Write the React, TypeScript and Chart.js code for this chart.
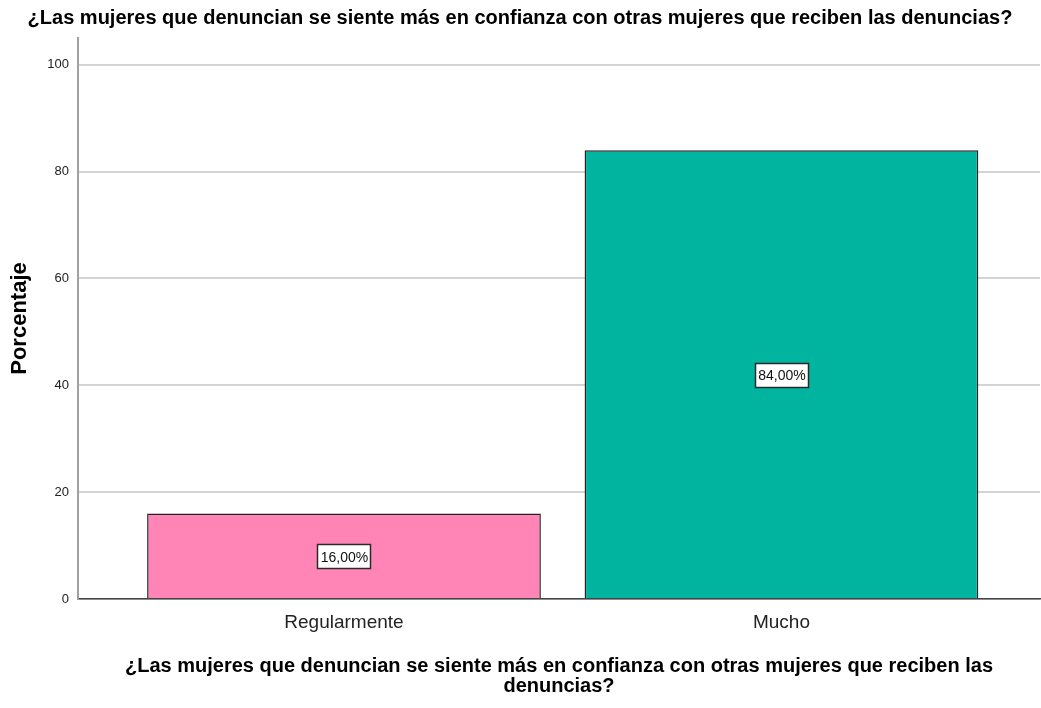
import React, { useEffect, useRef } from "react";
import { Chart, registerables } from "chart.js";

Chart.register(...registerables);

const categories = ["Regularmente", "Mucho"];
const positions = [0, 1];
const values = [16, 84];
const valueLabels = ["16,00%", "84,00%"];
const barColors = ["#FF85B6", "#00B4A0"];
const yTicks = [0, 20, 40, 60, 80, 100];

const titleText =
  "¿Las mujeres que denuncian se siente más en confianza con otras mujeres que reciben las denuncias?";
const xTitleLines = [
  "¿Las mujeres que denuncian se siente más en confianza con otras mujeres que reciben las",
  "denuncias?",
];

const FONT = "'Liberation Sans', Arial, sans-serif";

const labelPlugin = {
  id: "valueBoxes",
  afterDatasetsDraw(chart: any) {
    const ctx = chart.ctx;
    const meta = chart.getDatasetMeta(0);
    const yScale = chart.scales.y;
    ctx.save();
    ctx.font = "14px " + FONT;
    ctx.textAlign = "center";
    ctx.textBaseline = "middle";
    meta.data.forEach((bar: any, i: number) => {
      const x = bar.x;
      const y = yScale.getPixelForValue(values[i] / 2);
      const text = valueLabels[i];
      const w = Math.round(ctx.measureText(text).width + 6);
      const h = 24;
      const bx = Math.round(x - w / 2);
      const by = Math.round(y - h / 2);
      ctx.fillStyle = "#ffffff";
      ctx.fillRect(bx, by, w, h);
      ctx.strokeStyle = "#2a2a2a";
      ctx.lineWidth = 1.5;
      ctx.strokeRect(bx + 0.5, by + 0.5, w, h);
      ctx.fillStyle = "#111111";
      ctx.fillText(text, x + 0.5, y + 1.5);
    });
    ctx.restore();
  },
};

export default function App() {
  const ref = useRef<HTMLCanvasElement | null>(null);
  useEffect(() => {
    if (!ref.current) return;
    const chart = new Chart(ref.current, {
      type: "bar",
      data: {
        datasets: [
          {
            data: positions.map((p, i) => ({ x: p, y: values[i] })),
            backgroundColor: barColors,
            borderColor: "#222222",
            borderWidth: 1.5,
            barPercentage: 0.9,
            categoryPercentage: 1,
          },
        ],
      },
      options: {
        animation: false,
        responsive: false,
        layout: { padding: { top: 0, left: 0, right: 1, bottom: 0 } },
        plugins: {
          legend: { display: false },
          tooltip: { enabled: false },
          title: {
            display: true,
            text: titleText,
            color: "#000000",
            font: { family: FONT, size: 20, weight: "bold", lineHeight: 1.2 },
            padding: { top: 6, bottom: 8 },
          },
        },
        scales: {
          x: {
            type: "linear",
            offset: false,
            min: -0.608,
            max: 1.591,
            afterBuildTicks: (scale: any) => {
              scale.ticks = positions.map((p) => ({ value: p }));
            },
            afterFit: (scale: any) => {
              scale.height = 109;
            },
            ticks: {
              callback: (v: any) => {
                const idx = positions.indexOf(Number(v));
                return idx >= 0 ? categories[idx] : "";
              },
              color: "#222222",
              font: { family: FONT, size: 19 },
              padding: 12,
              maxRotation: 0,
              autoSkip: false,
            },
            grid: { display: false, drawTicks: false, offset: false },
            border: { display: true, color: "#444444", width: 1.5 },
            title: {
              display: true,
              text: xTitleLines,
              color: "#000000",
              font: { family: FONT, size: 20, weight: "bold", lineHeight: 1.0 },
              padding: { top: 0, bottom: 12 },
            },
          },
          y: {
            min: 0,
            max: 105,
            afterBuildTicks: (scale: any) => {
              scale.ticks = yTicks.map((v) => ({ value: v }));
            },
            afterFit: (scale: any) => {
              scale.width = 78;
            },
            ticks: {
              color: "#222222",
              font: { family: FONT, size: 13 },
              padding: 9,
            },
            grid: { color: "#d4d4d4", lineWidth: 2, drawTicks: false },
            border: { display: true, color: "#a0a0a0", width: 2 },
            title: {
              display: true,
              text: "Porcentaje",
              color: "#000000",
              font: { family: FONT, size: 22, weight: "bold", lineHeight: 1.2 },
              padding: { top: 7, bottom: 0 },
            },
          },
        },
      },
      plugins: [labelPlugin],
    } as any);
    return () => chart.destroy();
  }, []);
  return (
    <div style={{ position: "absolute", left: 0, top: 0, width: 1041, height: 708, background: "#fff" }}>
      <canvas ref={ref} width={1041} height={708} style={{ display: "block" }} />
    </div>
  );
}
